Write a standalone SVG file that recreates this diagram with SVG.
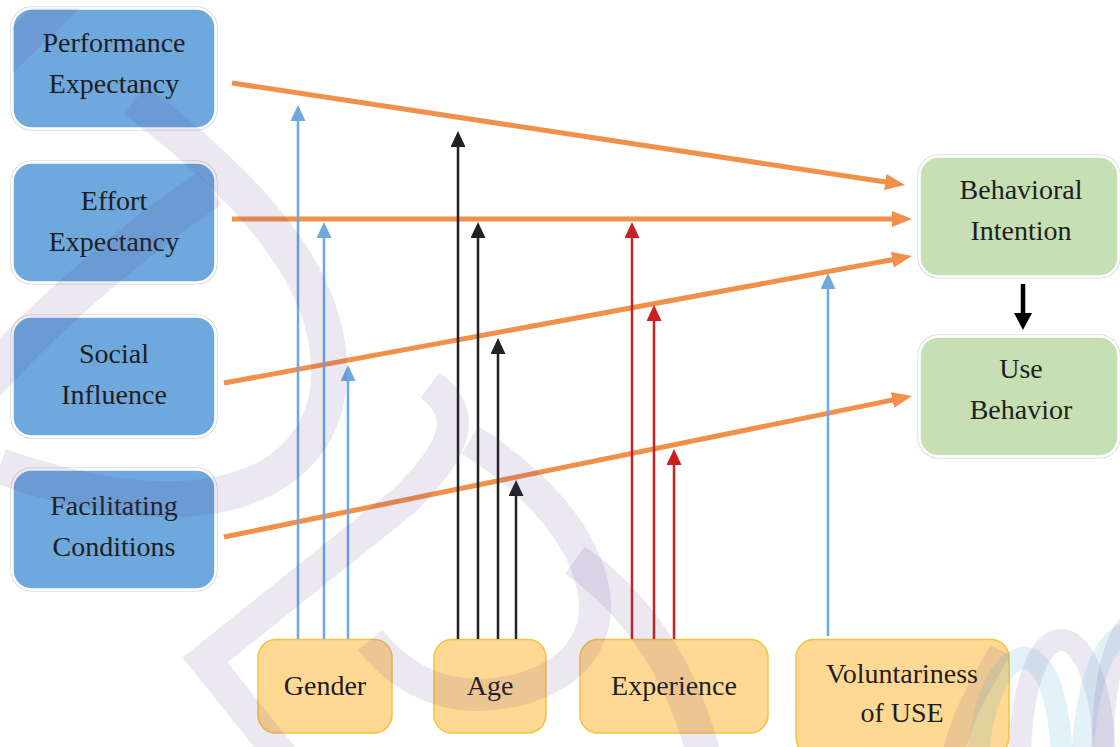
<svg xmlns="http://www.w3.org/2000/svg" width="1120" height="747" viewBox="0 0 1120 747">
<defs>
<style>
.t{font-family:'Liberation Serif','Times New Roman',serif;font-size:28px;fill:#1e1e1e;text-anchor:middle}
.bl{fill:#6FA8DC;stroke:#ffffff;stroke-width:2.5}
.gr{fill:#C6E0B4;stroke:#ffffff;stroke-width:2.5}
.out{fill:none;stroke:#cfcfcf;stroke-width:1}
.ye{fill:#FFD993;stroke:#F4C145;stroke-width:1.5}
.or{stroke:#F0904A;stroke-width:5;fill:none}
.vb{stroke:#6FA8DC;stroke-width:2.5;fill:none}
.vk{stroke:#222222;stroke-width:2.5;fill:none}
.vr{stroke:#C9211E;stroke-width:2.5;fill:none}
.wm{fill:none;stroke:#5b3f94;stroke-opacity:0.12}
.wb{fill:none;stroke:#3aa6d0;stroke-opacity:0.15}
</style>
<marker id="ao" markerUnits="userSpaceOnUse" viewBox="0 0 20 16" markerWidth="20" markerHeight="16" refX="12" refY="8" orient="auto"><path d="M0,0 L20,8 L0,16 z" fill="#F0904A"/></marker>
<marker id="ab" markerUnits="userSpaceOnUse" viewBox="0 0 16 15" markerWidth="16" markerHeight="15" refX="8" refY="7.5" orient="auto"><path d="M0,0 L16,7.5 L0,15 z" fill="#6FA8DC"/></marker>
<marker id="ak" markerUnits="userSpaceOnUse" viewBox="0 0 16 15" markerWidth="16" markerHeight="15" refX="8" refY="7.5" orient="auto"><path d="M0,0 L16,7.5 L0,15 z" fill="#222222"/></marker>
<marker id="ar" markerUnits="userSpaceOnUse" viewBox="0 0 16 15" markerWidth="16" markerHeight="15" refX="8" refY="7.5" orient="auto"><path d="M0,0 L16,7.5 L0,15 z" fill="#C9211E"/></marker>
</defs>
<rect width="1120" height="747" fill="#ffffff"/>

<g id="pe"><rect class="out" x="11" y="7" width="206" height="123" rx="20"/><rect class="bl" x="12.5" y="8.5" width="203" height="120" rx="19"/><text class="t" x="114" y="52">Performance</text><text class="t" x="114" y="93">Expectancy</text></g>
<g id="ee"><rect class="out" x="11" y="161" width="206" height="123" rx="20"/><rect class="bl" x="12.5" y="162.5" width="203" height="120" rx="19"/><text class="t" x="114" y="210">Effort</text><text class="t" x="114" y="251">Expectancy</text></g>
<g id="si"><rect class="out" x="11" y="315" width="206" height="123" rx="20"/><rect class="bl" x="12.5" y="316.5" width="203" height="120" rx="19"/><text class="t" x="114" y="363">Social</text><text class="t" x="114" y="404">Influence</text></g>
<g id="fc"><rect class="out" x="11" y="468" width="206" height="123" rx="20"/><rect class="bl" x="12.5" y="469.5" width="203" height="120" rx="19"/><text class="t" x="114" y="515">Facilitating</text><text class="t" x="114" y="556">Conditions</text></g>

<g id="bi"><rect class="out" x="918" y="155" width="202" height="123" rx="20"/><rect class="gr" x="919.5" y="156.5" width="199" height="120" rx="19"/><text class="t" x="1021" y="199">Behavioral</text><text class="t" x="1021" y="240">Intention</text></g>
<g id="ub"><rect class="out" x="918" y="335" width="202" height="123" rx="20"/><rect class="gr" x="919.5" y="336.5" width="199" height="120" rx="19"/><text class="t" x="1021" y="378">Use</text><text class="t" x="1021" y="419">Behavior</text></g>

<g id="gender"><rect class="ye" x="258" y="639.5" width="134" height="93.5" rx="18"/><text class="t" x="325" y="695">Gender</text></g>
<g id="age"><rect class="ye" x="434" y="639.5" width="112" height="93.5" rx="18"/><text class="t" x="490" y="695">Age</text></g>
<g id="experience"><rect class="ye" x="580" y="639.5" width="188" height="93.5" rx="18"/><text class="t" x="674" y="695">Experience</text></g>
<g id="voluntariness"><rect class="ye" x="796" y="639.5" width="213" height="116" rx="18"/><text class="t" x="902" y="683">Voluntariness</text><text class="t" x="902" y="722">of USE</text></g>

<g id="connectors">
<line class="or" x1="232" y1="83" x2="897.1" y2="183.8" marker-end="url(#ao)"/>
<line class="or" x1="232" y1="219" x2="904" y2="219" marker-end="url(#ao)"/>
<line class="or" x1="224" y1="383" x2="904.1" y2="257.5" marker-end="url(#ao)"/>
<line class="or" x1="224" y1="537" x2="904.2" y2="397.6" marker-end="url(#ao)"/>
<line class="vb" x1="298" y1="639" x2="298" y2="113" marker-end="url(#ab)"/>
<line class="vb" x1="324" y1="639" x2="324" y2="230" marker-end="url(#ab)"/>
<line class="vb" x1="348" y1="639" x2="348" y2="373" marker-end="url(#ab)"/>
<line class="vk" x1="458" y1="639" x2="458" y2="139" marker-end="url(#ak)"/>
<line class="vk" x1="478" y1="639" x2="478" y2="230" marker-end="url(#ak)"/>
<line class="vk" x1="498" y1="639" x2="498" y2="346" marker-end="url(#ak)"/>
<line class="vk" x1="516" y1="639" x2="516" y2="488" marker-end="url(#ak)"/>
<line class="vr" x1="632" y1="639" x2="632" y2="230" marker-end="url(#ar)"/>
<line class="vr" x1="654" y1="639" x2="654" y2="313" marker-end="url(#ar)"/>
<line class="vr" x1="674" y1="639" x2="674" y2="457" marker-end="url(#ar)"/>
<line class="vb" x1="828" y1="636" x2="828" y2="281" marker-end="url(#ab)"/>
<line x1="1023" y1="284" x2="1023" y2="314" stroke="#000" stroke-width="4.5"/>
<path d="M1014,313 L1032,313 L1023,330 z" fill="#000"/>
</g>

<g id="watermark">
<polygon points="12.5,73 12.5,27 31,8.5 80,8.5" fill="#5b3f94" fill-opacity="0.12"/>
<path class="wm" stroke-width="40" d="M-30 400 Q 70 285 210 188"/>
<path class="wm" stroke-width="36" d="M135 100 C 260 195, 340 290, 328 390 C 316 480, 210 540, 0 466"/>
<path class="wm" stroke-width="32" d="M430 385 C 470 415, 455 450, 405 500 L 205 660 L 285 760"/>
<path class="wm" stroke-width="32" d="M470 440 C 600 520, 645 650, 525 688 C 455 708, 405 683, 370 640"/>
<path class="wm" stroke-width="34" d="M575 560 C 645 610, 685 680, 705 760"/>
<path class="wm" stroke-width="22" d="M1000 650 C 985 680, 962 710, 952 760"/>
<path class="wb" stroke-width="22" d="M978 760 C 983 650, 1055 600, 1062 760"/>
<path class="wm" stroke-width="22" d="M1020 760 C 1022 600, 1100 600, 1105 760"/>
<path class="wb" stroke-width="22" d="M1082 760 C 1090 610, 1150 600, 1160 700"/>
<path class="wm" stroke-width="22" d="M1102 760 C 1104 600, 1150 600, 1165 640"/>
</g>
</svg>
